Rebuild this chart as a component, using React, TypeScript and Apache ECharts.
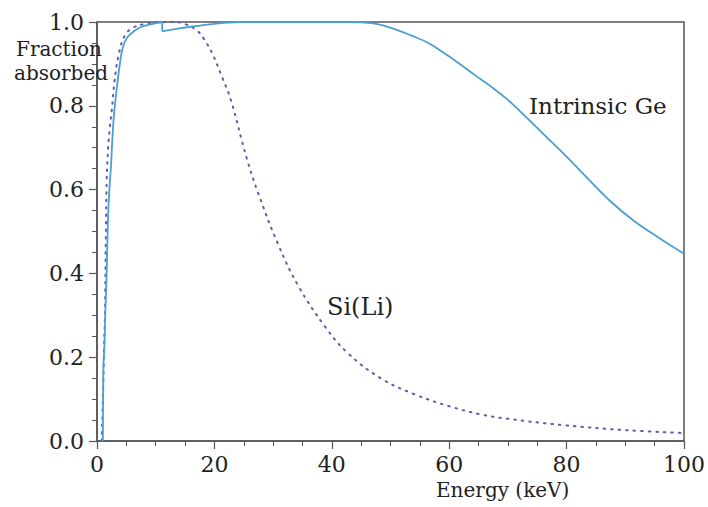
import React, { useEffect, useRef } from "react";
import * as echarts from "echarts";

// Intrinsic Ge: [energy keV, fraction absorbed]
const geEnergy = [1.0, 1.1, 1.25, 1.4, 1.6, 1.9, 2.2, 2.4, 2.6, 2.9, 3.4, 3.9, 4.4, 5.2, 6.4, 7.5, 9.3, 11.1, 11.12, 14, 17.4, 21.6, 25, 42, 45, 47.8, 50.7, 53.5, 56.3, 59, 61.8, 64.5, 67.5, 70, 72, 75.5, 79.4, 83.5, 87.8, 91.5, 95.5, 100];
const geFraction = [0.0, 0.18, 0.22, 0.3, 0.38, 0.54, 0.62, 0.66, 0.716, 0.78, 0.845, 0.9, 0.94, 0.964, 0.979, 0.988, 0.995, 0.999, 0.978, 0.985, 0.991, 0.998, 1.0, 1.0, 0.999, 0.995, 0.983, 0.968, 0.951, 0.927, 0.9, 0.872, 0.842, 0.814, 0.788, 0.74, 0.687, 0.628, 0.568, 0.525, 0.487, 0.447];

// Si(Li)
const siEnergy = [0.8, 1.0, 1.2, 1.35, 1.5, 1.65, 1.9, 2.2, 2.5, 3.0, 3.6, 4.7, 6.1, 8, 10.9, 13, 15, 17, 18.2, 19.6, 21.3, 22.8, 25.5, 27.5, 30.9, 34.3, 38.9, 42.7, 48.3, 54, 60, 65.2, 70, 79.4, 90, 100];
const siFraction = [0.0, 0.1, 0.22, 0.3, 0.48, 0.62, 0.7, 0.75, 0.788, 0.86, 0.916, 0.967, 0.986, 0.995, 1.0, 1.0, 0.995, 0.98, 0.96, 0.926, 0.869, 0.814, 0.675, 0.59, 0.468, 0.37, 0.272, 0.21, 0.15, 0.112, 0.083, 0.064, 0.053, 0.038, 0.026, 0.019];

const xTicks = [0, 20, 40, 60, 80, 100];
const yTicks = [0, 0.2, 0.4, 0.6, 0.8, 1.0];

const FONT = "DejaVu Serif";

export default function App() {
  const ref = useRef<HTMLDivElement>(null);
  useEffect(() => {
    if (!ref.current) return;
    const chart = echarts.init(ref.current, undefined, { renderer: "svg" });
    const ge = geEnergy.map((e, i) => [e, geFraction[i]]);
    const si = siEnergy.map((e, i) => [e, siFraction[i]]);
    chart.setOption({
      animation: false,
      backgroundColor: "#ffffff",
      textStyle: { fontFamily: FONT },
      grid: {
        left: 97,
        right: 19,
        top: 22,
        bottom: 66,
        show: true,
        borderColor: "#555",
        borderWidth: 1.5,
        backgroundColor: "transparent",
      },
      xAxis: {
        type: "value",
        min: xTicks[0],
        max: xTicks[xTicks.length - 1],
        interval: 20,
        axisLine: { show: true, lineStyle: { color: "#555", width: 1.5 } },
        axisTick: { show: true, inside: false, length: 8, lineStyle: { color: "#555", width: 1.2 } },
        minorTick: { show: true, splitNumber: 4, length: 5, lineStyle: { color: "#555", width: 1 } },
        splitLine: { show: false },
        axisLabel: { margin: 12, fontFamily: FONT, fontSize: 22, color: "#222" },
      },
      yAxis: {
        type: "value",
        min: yTicks[0],
        max: yTicks[yTicks.length - 1],
        interval: 0.2,
        axisLine: { show: true, lineStyle: { color: "#555", width: 1.5 } },
        axisTick: { show: true, inside: false, length: 8, lineStyle: { color: "#555", width: 1.2 } },
        minorTick: { show: true, splitNumber: 4, length: 5, lineStyle: { color: "#555", width: 1 } },
        splitLine: { show: false },
        axisLabel: {
          margin: 13,
          fontFamily: FONT,
          fontSize: 22,
          color: "#222",
          formatter: (v: number) => v.toFixed(1),
        },
      },
      series: [
        {
          name: "Intrinsic Ge",
          type: "line",
          data: ge,
          showSymbol: false,
          symbol: "none",
          smooth: 0.4,
          lineStyle: { color: "#4a9fd3", width: 1.8 },
          z: 3,
        },
        {
          name: "Si(Li)",
          type: "line",
          data: si,
          showSymbol: false,
          symbol: "none",
          smooth: 0.4,
          lineStyle: { color: "#5f5bb0", width: 2, type: [1.5, 6], cap: "round" },
          z: 2,
        },
      ],
      graphic: [
        {
          type: "text",
          left: 16,
          top: 39,
          style: { text: "Fraction", fontFamily: FONT, fontSize: 20, fill: "#222" },
          z: 1,
        },
        {
          type: "text",
          left: 14,
          top: 63,
          style: { text: "absorbed", fontFamily: FONT, fontSize: 20, fill: "#222" },
          z: 1,
        },
        {
          type: "text",
          left: 529,
          top: 94,
          style: { text: "Intrinsic Ge", fontFamily: FONT, fontSize: 23, fill: "#222" },
        },
        {
          type: "text",
          left: 327,
          top: 295,
          style: { text: "Si(Li)", fontFamily: FONT, fontSize: 24, fill: "#222" },
        },
        {
          type: "text",
          left: 436,
          top: 480,
          style: { text: "Energy (keV)", fontFamily: FONT, fontSize: 20, fill: "#222" },
        },
      ],
    });
    return () => chart.dispose();
  }, []);
  return <div ref={ref} style={{ width: 708, height: 507, position: "absolute", left: 0, top: 0 }} />;
}
